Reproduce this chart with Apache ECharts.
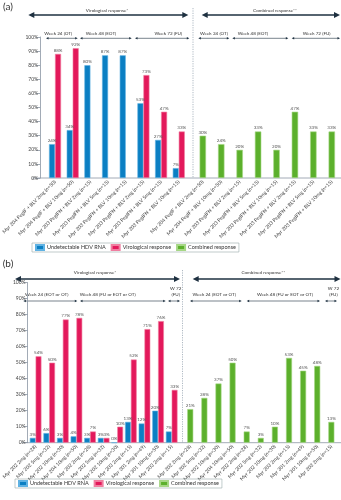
<!DOCTYPE html>
<html><head><meta charset="utf-8">
<script src="https://cdn.jsdelivr.net/npm/echarts@6/dist/echarts.min.js"></script>
<style>html,body{margin:0;padding:0;background:#fff}#c{width:341px;height:500px}</style>
</head><body><div id="c"></div>
<script>
// ---------- DATA ----------
const catsAVir = ['Myr 204 PegIF + BLV 2mg (n=50)','Myr 204 PegIF + BLV 10mg (n=50)','Myr 203 PegIFN + BLV 2mg (n=15)','Myr 203 PegIFN + BLV 5mg (n=15)','Myr 203 PegIFN + BLV 10mg (n=15)','Myr 203 PegIFN + BLV 2mg (n=15)','Myr 203 PegIFN + BLV 5mg (n=15)','Myr 203 PegIFN + BLV 10mg (n=15)'];
const catsAComb = ['Myr 204 PegIF + BLV 2mg (n=50)','Myr 204 PegIF + BLV 10mg (n=50)','Myr 203 PegIFN + BLV 2mg (n=15)','Myr 203 PegIFN + BLV 5mg (n=15)','Myr 203 PegIFN + BLV 10mg (n=15)','Myr 203 PegIFN + BLV 2mg (n=15)','Myr 203 PegIFN + BLV 5mg (n=15)','Myr 203 PegIFN + BLV 10mg (n=15)'];
const aUndetectable = [24,34,80,87,87,53,27,7];
const aVirological = [88,92,null,null,null,73,47,33];
const aCombined = [30,24,20,33,20,47,33,33];

const catsBVir = ['Myr 202 2mg (n=28)','Myr 202 5mg (n=32)','Myr 202 10mg (n=30)','Myr 204 10mg (n=50)','Myr 202 2mg (n=28)','Myr 202 5mg (n=32)','Myr 202 10mg (n=30)','Myr 203 2mg (n=15)','Myr 301 2mg (n=49)','Myr 301 10mg (n=50)','Myr 203 2mg (n=15)'];
const catsBComb = ['Myr 202 2mg (n=28)','Myr 202 5mg (n=32)','Myr 202 10mg (n=30)','Myr 204 10mg (n=50)','Myr 202 2mg (n=28)','Myr 202 5mg (n=32)','Myr 202 10mg (n=30)','Myr 203 2mg (n=15)','Myr 301 2mg (n=49)','Myr 301 10mg (n=50)','Myr 203 2mg (n=15)'];
const bUndetectable = [3,6,3,4,3,3,0,13,12,20,7];
const bVirological = [54,50,77,78,7,3,10,52,71,76,33];
const bCombined = [21,28,37,50,7,3,10,53,45,48,13];

const seriesNames = ['Undetectable HDV RNA','Virological response','Combined response'];
const yMin = 0, yMax = 100, yStep = 10;

// ---------- STYLE ----------
const FONT = 'Lato';
const BLUE = '#0b7fc3', RED = '#e3195b', GREEN = '#5cb02c';
const DARK = '#1e3040';
const AX = '#8a96a3';

// layout
const A = {top:37, h:141, l1:38.4, w1:149.2, l2:193.6, w2:149.8, yAxisX:32.3};
const B = {top:282.7, h:160, l1:22.9, w1:155.6, l2:183.2, w2:155.2, yAxisX:21.7};

function arrow(x1,x2,y,lw,hl,hw){
  return [
    {type:'line', shape:{x1:x1+hl*0.7,y1:y,x2:x2-hl*0.7,y2:y}, style:{stroke:DARK,lineWidth:lw}},
    {type:'polygon', shape:{points:[[x1,y],[x1+hl,y-hw],[x1+hl,y+hw]]}, style:{fill:DARK}},
    {type:'polygon', shape:{points:[[x2,y],[x2-hl,y-hw],[x2-hl,y+hw]]}, style:{fill:DARK}}
  ];
}
function txt(x,y,t,fs,extra){
  return Object.assign({type:'text', x:x, y:y, style:{text:t, fontSize:fs, fontFamily:FONT, fill:'#333', align:'center', verticalAlign:'middle', lineHeight:fs*1.15}}, extra||{});
}
function vdash(x,y1,y2){
  return {type:'line', shape:{x1:x,y1:y1,x2:x,y2:y2}, style:{stroke:'#9aa7b4',lineWidth:0.8,lineDash:[1.2,1.2]}};
}
function hline(x1,x2,y){
  return {type:'line', shape:{x1:x1,y1:y,x2:x2,y2:y}, style:{stroke:AX,lineWidth:0.8}};
}

const g = [];
// Panel a annotations
g.push(txt(8,7,'(a)',10,{style:{text:'(a)',fontSize:10,fontFamily:FONT,fill:'#333',align:'center',verticalAlign:'middle'}}));
g.push(...arrow(28.3,188.3,15,1.6,6,3));
g.push(...arrow(201.7,340,15,1.6,6,3));
g.push(txt(107,10.5,'Virological response*',4.6));
g.push(txt(275,10.5,'Combined response**',4.6));
[[46,77.7,58.3,'Week 24 (OT)'],[80,131.7,101,'Week 48 (EOT)'],[135,189.3,168.3,'Week 72 (FU)'],
 [198.3,229.3,214,'Week 24 (OT)'],[232.3,288.3,253,'Week 48 (EOT)'],[291.7,340,316.7,'Week 72 (FU)']].forEach(r=>{
  g.push(...arrow(r[0],r[1],38.3,0.6,2.5,1.2));
  g.push(txt(r[2],33.5,r[3],4.6));
});
g.push(vdash(193,8,178));
g.push(hline(A.yAxisX, 341, A.top+A.h));

// Panel b annotations
g.push({type:'text', x:8, y:264, style:{text:'(b)',fontSize:10,fontFamily:FONT,fill:'#333',align:'center',verticalAlign:'middle'}});
g.push(...arrow(15,180,279,1.6,6,3));
g.push(...arrow(192.7,340.5,279,1.6,6,3));
g.push(txt(95,273,'Virological response*',4.6));
g.push(txt(263.3,273,'Combined response**',4.6));
[[23.3,77.3,46.7,'Week 24 (EOT or OT)'],[80,165.7,107.7,'Week 48 (FU or EOT or OT)'],[168,180,175.7,'W 72\n(FU)'],
 [190,241.7,214.3,'Week 24 (EOT or OT)'],[246.7,320,285,'Week 48 (FU or EOT or OT)'],[325,337,333.5,'W 72\n(FU)']].forEach(r=>{
  g.push(...arrow(r[0],r[1],301,0.6,2.5,1.2));
  const two = r[3].indexOf('\n')>=0;
  g.push(txt(r[2], two?291.5:294.5, r[3], 4.6));
});
g.push(vdash(182.5,270,443));
g.push(hline(B.yAxisX, 341, B.top+B.h));

const lbl = {show:true, position:'top', distance:1, fontSize:4.5, fontFamily:FONT, color:'#555',
  formatter:p=> (p.value==null||p.value==='-') ? '' : p.value+'%'};

function xAx(gi, cats){
  return {type:'category', gridIndex:gi, data:cats, axisLine:{show:false}, axisTick:{show:false},
    axisLabel:{interval:0, rotate:45, fontSize:5, fontFamily:FONT, color:'#444', margin:3}};
}
function yAx(gi, show, off){
  return {type:'value', gridIndex:gi, min:yMin, max:yMax, interval:yStep, offset:off||0, show:show,
    splitLine:{show:false},
    axisLine:{show:true, lineStyle:{color:AX, width:0.8}},
    axisTick:{show:true, length:4, lineStyle:{color:AX, width:0.8}},
    axisLabel:{fontSize:5, fontFamily:FONT, color:'#444', margin:2, formatter:v=>v+'%'}};
}
function bar(name, xi, data, color, border, bw){
  return {type:'bar', name:name, xAxisIndex:xi, yAxisIndex:xi, data:data, barWidth:bw, barGap:'0%',
    itemStyle:{color:color, borderColor:border, borderWidth:0.6}, label:lbl, animation:false};
}

const option = {
  animation:false,
  textStyle:{fontFamily:FONT},
  grid:[
    {left:A.l1, top:A.top, width:A.w1, height:A.h},
    {left:A.l2, top:A.top, width:A.w2, height:A.h},
    {left:B.l1, top:B.top, width:B.w1, height:B.h},
    {left:B.l2, top:B.top, width:B.w2, height:B.h}
  ],
  xAxis:[xAx(0,catsAVir), xAx(1,catsAComb), xAx(2,catsBVir), xAx(3,catsBComb)],
  yAxis:[yAx(0,true,A.l1-A.yAxisX), yAx(1,false), yAx(2,true,B.l1-B.yAxisX), yAx(3,false)],
  legend:[
    {left:32, top:243, data:seriesNames, itemWidth:8, itemHeight:5, itemGap:5, padding:[1,3],
     borderColor:'#9aa', borderWidth:0.6, textStyle:{fontSize:5.5, fontFamily:FONT, color:'#333', padding:[0,0,0,-2]}, selectedMode:false, icon:'rect'},
    {left:15, top:479, data:seriesNames, itemWidth:8, itemHeight:5, itemGap:5, padding:[1,3],
     borderColor:'#9aa', borderWidth:0.6, textStyle:{fontSize:5.5, fontFamily:FONT, color:'#333', padding:[0,0,0,-2]}, selectedMode:false, icon:'rect'}
  ],
  series:[
    bar(seriesNames[0],0,aUndetectable,BLUE,'#5fb2e3',6),
    bar(seriesNames[1],0,aVirological,RED,'#f07ea0',6),
    bar(seriesNames[2],1,aCombined,GREEN,'#a6d785',6.4),
    bar(seriesNames[0],2,bUndetectable,BLUE,'#5fb2e3',5.8),
    bar(seriesNames[1],2,bVirological,RED,'#f07ea0',5.8),
    bar(seriesNames[2],3,bCombined,GREEN,'#a6d785',6)
  ],
  graphic:g
};
const chart = echarts.init(document.getElementById('c'), null, {renderer:'canvas'});
chart.setOption(option);
</script></body></html>
